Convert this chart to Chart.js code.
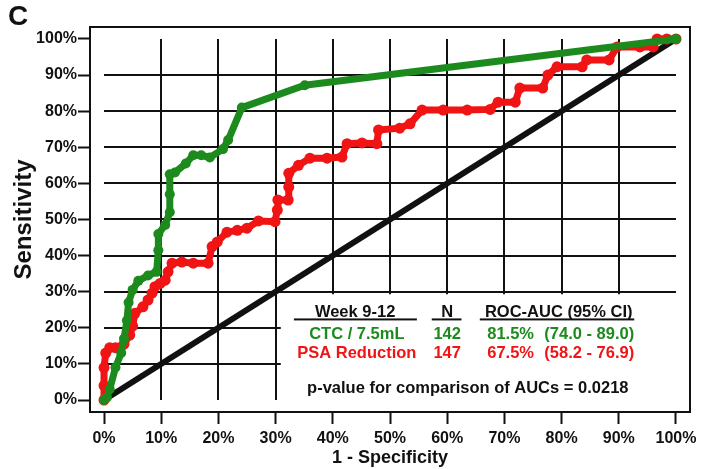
<!DOCTYPE html>
<html>
<head>
<meta charset="utf-8">
<title>ROC curves – Week 9-12</title>
<script src="https://cdn.jsdelivr.net/npm/chart.js@4.4.1/dist/chart.umd.min.js"></script>
<style>
  html, body { margin: 0; padding: 0; background: #ffffff; }
  #wrap { width: 706px; height: 469px; }
</style>
</head>
<body>
<div id="wrap"><canvas id="roc" width="706" height="469"></canvas></div>
<script>
// Axis ticks (percent)
const AXIS_TICKS = [0, 10, 20, 30, 40, 50, 60, 70, 80, 90, 100];

// Reference line of no discrimination
const CHANCE_FPR = [0, 100];
const CHANCE_TPR = [0, 100];

// CTC / 7.5mL ROC curve (1 - specificity, sensitivity), percent
const CTC_FPR = [0, 0.5, 1, 2, 3, 3.5, 4, 4.3, 5, 6, 7.7, 9.2, 9.5, 9.5, 10.7, 11.5, 11.5, 11.5, 12.4, 14.3, 15.6, 17, 18.5, 20.8, 21.7, 24.1, 35.1, 100];
const CTC_TPR = [0, 0.7, 3, 9, 13, 17, 22, 27, 30.5, 33, 34.5, 35.5, 41.5, 46, 48.5, 52, 57, 62.5, 63, 65.5, 67.8, 67.8, 67.2, 69.5, 72, 81, 87.2, 100];

// PSA reduction ROC curve (1 - specificity, sensitivity), percent
const PSA_FPR = [0, 0, 0, 0.3, 1, 2, 3.5, 4.5, 5, 5.4, 6.8, 7.7, 8.4, 8.9, 9.8, 10.7, 11.2, 11.9, 13.6, 15.6, 18.2, 18.9, 19.8, 21.5, 23.3, 25, 27, 29.9, 30.3, 30.4, 32.2, 32.3, 32.3, 34, 36, 39, 41.6, 42.5, 45.1, 47.7, 48, 51.7, 53.5, 55.6, 59.3, 63.5, 67.5, 68.9, 71.9, 72.7, 76.7, 77.6, 79.2, 83.6, 84.4, 88.3, 89.7, 93.7, 96, 96.7, 98.4, 100];
const PSA_TPR = [0, 4, 9, 13, 14.5, 14.5, 15.5, 18, 20.5, 24, 25.8, 27.7, 29.6, 31.4, 32.3, 33.2, 35.5, 37.9, 38.2, 37.9, 37.9, 42.5, 43.8, 46.5, 47, 47.6, 49.6, 49.4, 52.6, 55.4, 55.4, 59, 62.8, 65, 67, 67, 67.3, 71, 71.2, 71, 74.8, 75.3, 76.5, 80.3, 80.3, 80.3, 80.5, 82.5, 82.5, 86.4, 86.4, 90, 92.3, 92.3, 94.2, 94.2, 97.8, 97.8, 97.8, 100, 100, 100];

// Summary table
const TABLE_HEADERS = ['Week 9-12', 'N', 'ROC-AUC (95% CI)'];
const MARKERS = ['CTC / 7.5mL', 'PSA Reduction'];
const MARKER_N = [142, 147];
const MARKER_AUC = ['81.5%', '67.5%'];
const MARKER_CI = ['(74.0 - 89.0)', '(58.2 - 76.9)'];
const P_VALUE = '0.0218';

const GREEN = '#1c8a1c';
const RED = '#f01414';
const INK = '#111111';
const FONT = '"Liberation Sans", Arial, Helvetica, sans-serif';

const toPoints = (xs, ys) => xs.map((v, i) => ({ x: v, y: ys[i] }));

// Inner grid (0–100 only), table panel and frame
const panelPlugin = {
  id: 'panelPlugin',
  beforeDatasetsDraw(chart) {
    const { ctx, chartArea: a, scales: { x, y } } = chart;
    ctx.save();
    ctx.strokeStyle = INK;
    ctx.lineWidth = 2;
    ctx.beginPath();
    AXIS_TICKS.forEach(v => {
      if (v === 0 || v === 100) return;
      const px = Math.round(x.getPixelForValue(v));
      ctx.moveTo(px, y.getPixelForValue(0));
      ctx.lineTo(px, y.getPixelForValue(100));
      const py = Math.round(y.getPixelForValue(v));
      ctx.moveTo(x.getPixelForValue(0), py);
      ctx.lineTo(x.getPixelForValue(100), py);
    });
    ctx.stroke();

    // white panel behind the summary table
    const bx = x.getPixelForValue(30.9);
    const by = y.getPixelForValue(29.3);
    ctx.fillStyle = '#ffffff';
    ctx.fillRect(bx, by, a.right - bx - 1, a.bottom - by - 1);

    // frame
    ctx.lineWidth = 2;
    ctx.strokeRect(a.left, a.top, a.right - a.left, a.bottom - a.top);
    ctx.restore();
  },
  afterDatasetsDraw(chart) {
    const { ctx, scales: { x, y } } = chart;
    ctx.save();
    ctx.font = 'bold 16.5px ' + FONT;
    ctx.textBaseline = 'alphabetic';
    const X = v => x.getPixelForValue(v);
    const Y = v => y.getPixelForValue(v);

    // header row
    ctx.fillStyle = INK;
    ctx.textAlign = 'center';
    ctx.fillText(TABLE_HEADERS[0], X(43.9), Y(23.1));
    ctx.fillText(TABLE_HEADERS[1], X(60.0), Y(23.1));
    ctx.fillText(TABLE_HEADERS[2], X(79.5), Y(23.1));
    ctx.fillRect(X(33.2), Y(22.6), X(54.7) - X(33.2), 2);
    ctx.fillRect(X(57.3), Y(22.6), X(62.5) - X(57.3), 2);
    ctx.fillRect(X(65.7), Y(22.6), X(92.7) - X(65.7), 2);

    // marker rows
    const rowY = [17.0, 11.5];
    const rowColor = [GREEN, RED];
    MARKERS.forEach((name, i) => {
      ctx.fillStyle = rowColor[i];
      ctx.textAlign = 'center';
      ctx.fillText(name, X(44.2), Y(rowY[i]));
      ctx.fillText(String(MARKER_N[i]), X(60.0), Y(rowY[i]));
      ctx.textAlign = 'left';
      ctx.fillText(MARKER_AUC[i], X(67.0), Y(rowY[i]));
      ctx.textAlign = 'right';
      ctx.fillText(MARKER_CI[i], X(92.7), Y(rowY[i]));
    });

    // comparison of AUCs
    ctx.fillStyle = INK;
    ctx.textAlign = 'center';
    ctx.fillText('p-value for comparison of AUCs = ' + P_VALUE, X(63.6), Y(1.9));

    // panel letter
    ctx.font = 'bold 28px ' + FONT;
    ctx.textAlign = 'left';
    ctx.fillText('C', 8, 25);
    ctx.restore();
  }
};

const tickFont = { family: FONT, size: 16, weight: 'bold' };

new Chart(document.getElementById('roc'), {
  type: 'line',
  data: {
    datasets: [
      {
        label: 'CTC / 7.5mL',
        data: toPoints(CTC_FPR, CTC_TPR),
        borderColor: GREEN,
        backgroundColor: GREEN,
        borderWidth: 7,
        pointRadius: 5,
        pointBorderWidth: 0,
        pointBackgroundColor: GREEN,
        tension: 0,
        order: 0
      },
      {
        label: 'PSA Reduction',
        data: toPoints(PSA_FPR, PSA_TPR),
        borderColor: RED,
        backgroundColor: RED,
        borderWidth: 7,
        pointRadius: 5.5,
        pointBorderWidth: 0,
        pointBackgroundColor: RED,
        tension: 0,
        order: 1
      },
      {
        label: 'Chance',
        data: toPoints(CHANCE_FPR, CHANCE_TPR),
        borderColor: INK,
        borderWidth: 6,
        pointRadius: 0,
        tension: 0,
        order: 2
      }
    ]
  },
  options: {
    responsive: false,
    animation: false,
    devicePixelRatio: 1,
    layout: { padding: { left: 0, right: 16, top: 27, bottom: 0 } },
    plugins: { legend: { display: false }, tooltip: { enabled: false } },
    scales: {
      x: {
        type: 'linear',
        min: -2.45,
        max: 102.45,
        afterBuildTicks: s => { s.ticks = AXIS_TICKS.map(v => ({ value: v })); },
        afterFit: s => { s.height = 57; },
        border: { display: false },
        grid: { drawOnChartArea: false, drawTicks: true, tickLength: 12, tickWidth: 2, tickColor: INK },
        ticks: { font: tickFont, color: INK, padding: 5, maxRotation: 0, autoSkip: false, callback: v => v + '%' },
        title: { display: true, text: '1 - Specificity', color: INK, font: { family: FONT, size: 18, weight: 'bold' }, padding: { top: 0, bottom: 0 } }
      },
      y: {
        type: 'linear',
        min: -3.32,
        max: 103.32,
        afterBuildTicks: s => { s.ticks = AXIS_TICKS.map(v => ({ value: v })); },
        afterFit: s => { s.width = 90; },
        border: { display: false },
        grid: { drawOnChartArea: false, drawTicks: true, tickLength: 12, tickWidth: 2, tickColor: INK },
        ticks: { font: tickFont, color: INK, padding: 1, autoSkip: false, callback: v => v + '%' },
        title: { display: true, text: 'Sensitivity', color: INK, font: { family: FONT, size: 24, weight: 'bold' }, padding: { top: 10, bottom: 0 } }
      }
    }
  },
  plugins: [panelPlugin]
});
</script>
</body>
</html>
